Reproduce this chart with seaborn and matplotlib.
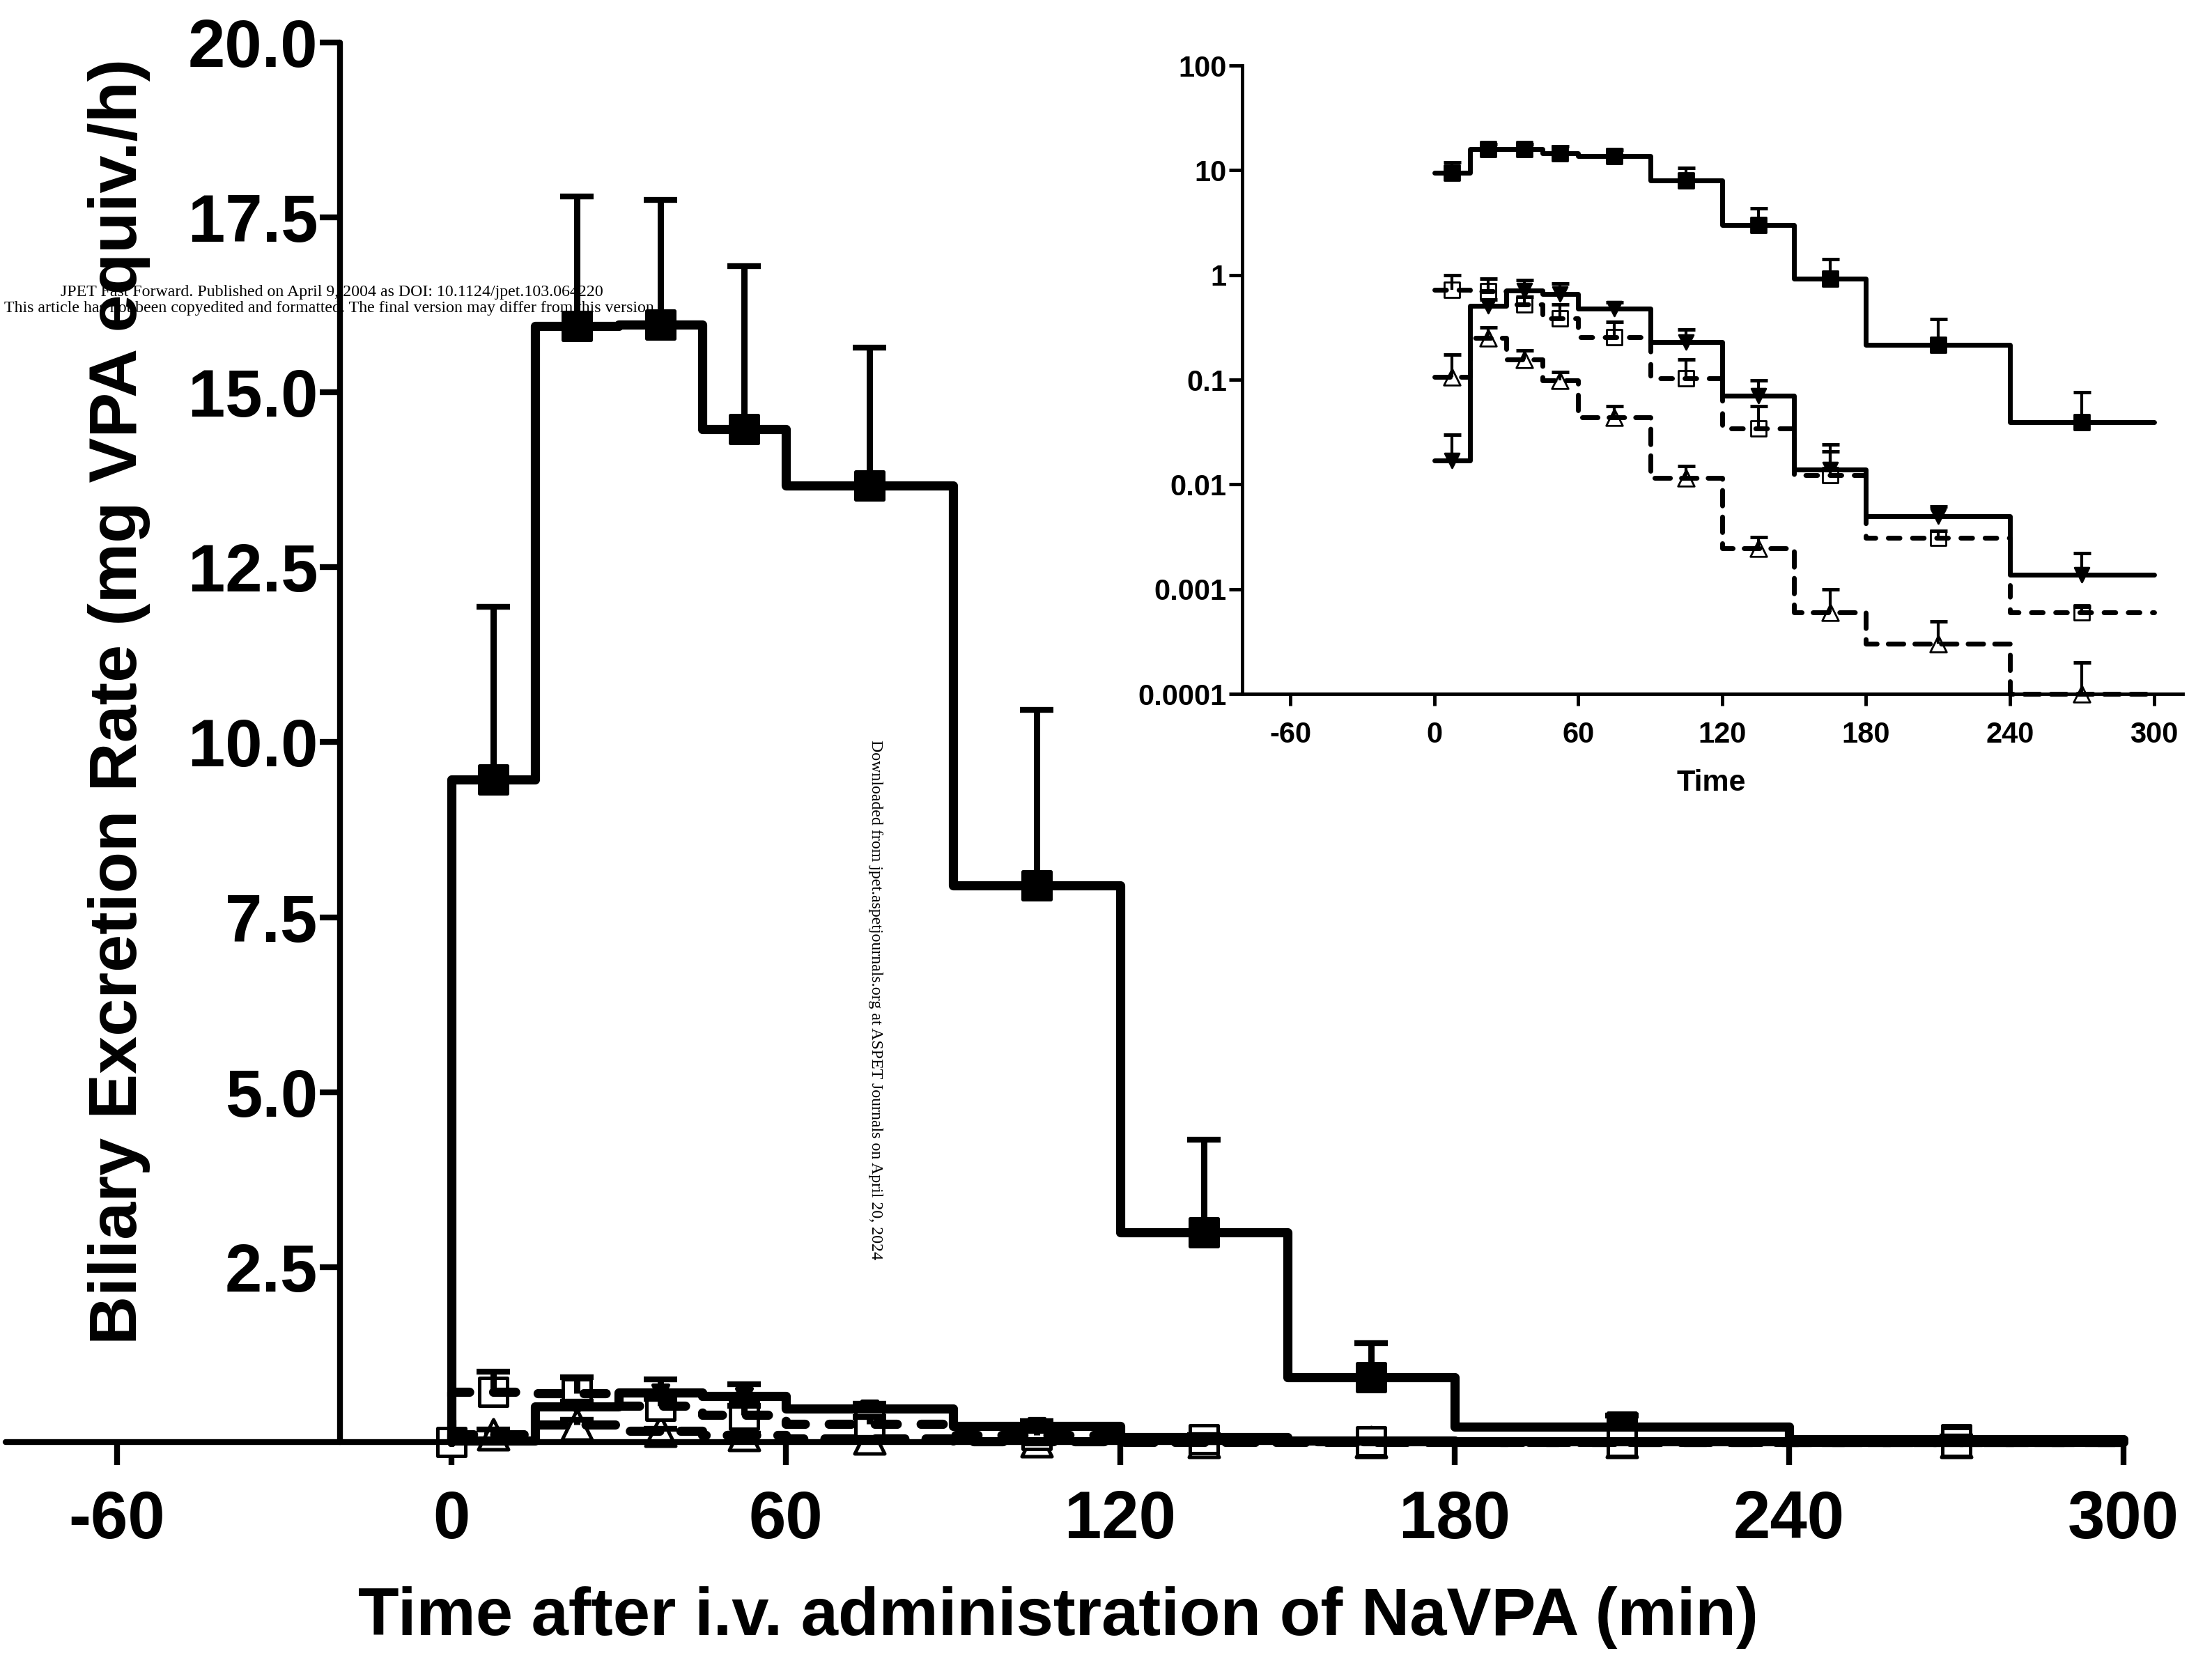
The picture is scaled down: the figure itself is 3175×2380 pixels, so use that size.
import numpy as np
import matplotlib
matplotlib.use("Agg")
import matplotlib.pyplot as plt
import seaborn as sns
from matplotlib import font_manager
from matplotlib.ticker import NullLocator

# interval edges (min) and the midpoints where the markers sit
t_edges = [0, 15, 30, 45, 60, 90, 120, 150, 180, 240, 300]
t_mid = [7.5, 22.5, 37.5, 52.5, 75, 105, 135, 165, 210, 270]

# filled squares, solid line
vpa = [9.47, 15.95, 15.97, 14.47, 13.67, 7.95, 3.0, 0.92, 0.215, 0.039]
vpa_top = [11.94, 17.8, 17.75, 16.8, 15.64, 10.46, 4.32, 1.41, 0.38, 0.076]

# filled down triangles, solid line
dtri = [0.0168, 0.51, 0.71, 0.66, 0.48, 0.23, 0.070, 0.0138, 0.0050, 0.00138]
dtri_top = [0.030, 0.58, 0.89, 0.83, 0.55, 0.30, 0.098, 0.024, 0.0062, 0.0022]

# open squares, short dashes
osq = [0.72, 0.70, 0.52, 0.385, 0.254, 0.103, 0.034, 0.0123, 0.0031, 0.0006]
osq_top = [1.0, 0.92, 0.62, 0.52, 0.355, 0.157, 0.056, 0.0205, 0.0036, 0.00068]
osq_zero_t = [0]
osq_zero_v = [0]

# open triangles, long dashes
otri = [0.106, 0.25, 0.155, 0.098, 0.044, 0.0115, 0.00245, 0.0006, 0.0003, 0.0001]
otri_top = [0.174, 0.316, 0.19, 0.118, 0.056, 0.015, 0.00316, 0.001, 0.00049, 0.0002]

main_xticks = [-60, 0, 60, 120, 180, 240, 300]
main_yticks = [2.5, 5.0, 7.5, 10.0, 12.5, 15.0, 17.5, 20.0]
inset_yticks = [1e-4, 1e-3, 1e-2, 1e-1, 1, 10, 100]
inset_ylabels = ["0.0001", "0.001", "0.01", "0.1", "1", "10", "100"]

sns.set_theme(style="ticks", rc={"text.color": "black", "axes.labelcolor": "black",
                                 "xtick.color": "black", "ytick.color": "black",
                                 "axes.edgecolor": "black", "axes.unicode_minus": False})
plt.rcParams["font.family"] = ["Liberation Sans", "DejaVu Sans"]
plt.rcParams["font.weight"] = "bold"

installed = {f.name for f in font_manager.fontManager.ttflist}
if "Liberation Sans Narrow" in installed:
    ylab_family, ylab_size = ["Liberation Sans Narrow", "Liberation Sans"], 84
else:
    ylab_family, ylab_size = ["Liberation Sans", "DejaVu Sans"], 70

fig = plt.figure(figsize=(31.75, 23.8), dpi=100)
ax = fig.add_axes([0.00252, 0.1303, 0.9575, 0.8441])
ax2 = fig.add_axes([0.5616, 0.5815, 0.4252, 0.379])
ax2.set_yscale("log")

MAIN = dict(lw=9.5, ms=29, tri=31, dtri=16, mew=3.6, elw=6.5, cap=17.5, capthick=6, zero=True)
INSET = dict(lw=5, ms=16, tri=17, dtri=15, mew=2, elw=3, cap=9, capthick=3.6, zero=False)


def draw_series(a, values, upper, marker, hollow, dashes, sz, z):
    # markers go under every line: filled ones lowest, white open ones above them
    if hollow:
        ms = sz["tri"] if marker == "^" else sz["ms"]
        sns.scatterplot(x=t_mid, y=values, ax=a, marker=marker, s=ms ** 2, color="white",
                        edgecolor="black", linewidth=sz["mew"], zorder=4,
                        clip_on=False, legend=False)
    else:
        ms = sz["dtri"] if marker == "v" else sz["ms"]
        sns.scatterplot(x=t_mid, y=values, ax=a, marker=marker, s=ms ** 2, color="black",
                        edgecolor="black", linewidth=sz["mew"], zorder=3,
                        clip_on=False, legend=False)
    x = ([0] if sz["zero"] else []) + t_edges
    y = ([0] if sz["zero"] else []) + values + [values[-1]]
    ls = "-" if dashes is None else (0, dashes)
    sns.lineplot(x=x, y=y, ax=a, estimator=None, sort=False, drawstyle="steps-post",
                 color="black", linewidth=sz["lw"], linestyle=ls,
                 dash_capstyle="round", solid_capstyle="round", solid_joinstyle="round",
                 legend=False, zorder=z, clip_on=False)
    err_hi = np.array(upper) - np.array(values)
    _, caps, _ = a.errorbar(t_mid, values, yerr=[np.zeros(len(values)), err_hi], fmt="none",
                            ecolor="black", elinewidth=sz["elw"], capsize=sz["cap"],
                            capthick=sz["capthick"], zorder=z, clip_on=False)
    for c in caps[:len(caps) // 2]:
        c.set_visible(False)


for a, sz in [(ax, MAIN), (ax2, INSET)]:
    draw_series(a, otri, otri_top, "^", True, (3.2, 2.3), sz, 5)
    draw_series(a, osq, osq_top, "s", True, (2.4, 2.6), sz, 5.1)
    draw_series(a, dtri, dtri_top, "v", False, None, sz, 5.2)
    draw_series(a, vpa, vpa_top, "s", False, None, sz, 5.3)

# open square sitting on the origin of the linear plot
sns.scatterplot(x=osq_zero_t, y=osq_zero_v, ax=ax, marker="s", s=MAIN["ms"] ** 2,
                color="white", edgecolor="black", linewidth=MAIN["mew"],
                zorder=4, clip_on=False, legend=False)

# main axes
ax.set_xlim(-80, 300)
ax.set_ylim(0, 20)
ax.spines["top"].set_visible(False)
ax.spines["right"].set_visible(False)
ax.spines["left"].set_position(("data", -20))
ax.spines["left"].set_bounds(0, 20)
for s in ["left", "bottom"]:
    ax.spines[s].set_linewidth(6)
    ax.spines[s].set_capstyle("round")
    ax.spines[s].set_zorder(4.5)
ax.set_xticks(main_xticks, [str(v) for v in main_xticks])
ax.set_yticks(main_yticks, [f"{v:.1f}" for v in main_yticks])
ax.tick_params(axis="x", length=24, width=6, pad=25, labelsize=69)
ax.tick_params(axis="y", length=21, width=6, pad=2, labelsize=69)
ax.set_xlabel("")
ax.set_ylabel("")
ax.set_facecolor("none")

# inset axes
ax2.set_xlim(-80, 312)
ax2.set_ylim(1e-4, 100)
ax2.spines["top"].set_visible(False)
ax2.spines["right"].set_visible(False)
for s in ["left", "bottom"]:
    ax2.spines[s].set_linewidth(3.5)
    ax2.spines[s].set_zorder(4.5)
ax2.set_xticks(main_xticks, [str(v) for v in main_xticks])
ax2.set_yticks(inset_yticks, inset_ylabels)
ax2.yaxis.set_minor_locator(NullLocator())
ax2.tick_params(axis="x", length=12, width=3.5, pad=16, labelsize=30)
ax2.tick_params(axis="y", length=14, width=3.5, pad=2, labelsize=30)
ax2.set_xlabel("")
ax2.set_ylabel("")
ax2.set_facecolor("none")

# axis titles
fig.text(0.4784, 0.0139, "Time after i.v. administration of NaVPA (min)",
         fontsize=69, fontweight="bold", ha="center", va="baseline")
fig.text(0.054, 0.5769, "Biliary Excretion Rate (mg VPA equiv./h)", family=ylab_family,
         fontsize=ylab_size, fontweight="bold", rotation=90, ha="center", va="center")
fig.text(0.7735, 0.523, "Time", fontsize=31, fontweight="bold", ha="center", va="baseline")

# journal stamps
serif = ["Liberation Serif", "DejaVu Serif"]
fig.text(0.1499, 0.8214,
         "JPET Fast Forward. Published on April 9, 2004 as DOI: 10.1124/jpet.103.064220",
         family=serif, fontsize=17.2, fontweight="normal", ha="center", va="baseline")
fig.text(0.1499, 0.8118,
         "This article has not been copyedited and formatted. The final version may differ from this version.",
         family=serif, fontsize=17.2, fontweight="normal", ha="center", va="baseline")
fig.text(0.3959, 0.397,
         "Downloaded from jpet.aspetjournals.org at ASPET Journals on April 20, 2024",
         family=serif, fontsize=17.2, fontweight="normal", rotation=-90, ha="center", va="center")

fig.savefig("out.png", dpi=100, facecolor="white")
